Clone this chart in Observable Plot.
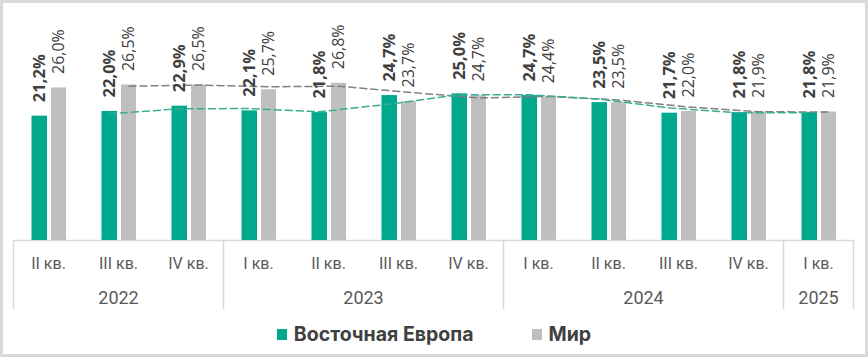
<!DOCTYPE html>
<html>
<head>
<meta charset="utf-8">
<script src="https://cdn.jsdelivr.net/npm/d3@7"></script>
<script src="https://cdn.jsdelivr.net/npm/@observablehq/plot@0.6"></script>
<style>
  html, body { margin: 0; padding: 0; background: #fff; }
  #wrap { position: relative; width: 868px; height: 357px; overflow: hidden; background: #fff; }
  #chart { position: absolute; left: 0; top: 0; }
  #frame { position: absolute; left: 0; top: 0; right: 0; bottom: 0; border: 3px solid #d9d9d9; box-sizing: border-box; pointer-events: none; }
  #legend { position: absolute; left: 0; top: 322px; width: 868px; height: 24px; display: flex; justify-content: center; align-items: center;
            font-family: Inter, sans-serif; font-weight: bold; font-size: 19.5px; color: #404040; }
  .item { display: flex; align-items: center; }
  .sw { width: 10px; height: 11px; margin-right: 7px; }
</style>
</head>
<body>
<div id="wrap">
  <div id="chart"></div>
  <div id="legend"></div>
  <div id="frame"></div>
</div>
<script>
// ---- data ----
const quarters = ["II кв.", "III кв.", "IV кв.", "I кв.", "II кв.", "III кв.", "IV кв.", "I кв.", "II кв.", "III кв.", "IV кв.", "I кв."];
const years    = ["2022", "2022", "2022", "2023", "2023", "2023", "2023", "2024", "2024", "2024", "2024", "2025"];
const eastEurope = [21.2, 22.0, 22.9, 22.1, 21.8, 24.7, 25.0, 24.7, 23.5, 21.7, 21.8, 21.8];
const world      = [26.0, 26.5, 26.5, 25.7, 26.8, 23.7, 24.7, 24.4, 23.5, 22.0, 21.9, 21.9];
// dashed trend lines
const eastEuropeTrend = [null, 21.6, 22.45, 22.5, 21.95, 23.25, 24.85, 24.85, 24.1, 22.6, 21.75, 21.8];
const worldTrend      = [null, 26.3, 26.5, 26.2, 26.3, 25.25, 24.3, 24.55, 23.95, 22.75, 21.95, 21.9];
const seriesNames = ["Восточная Европа", "Мир"];
const colors = ["#00a88e", "#bfbfbf"];

const keys = quarters.map((q, i) => years[i] + " " + q);
const rows = keys.map((k, i) => ({
  key: k, q: quarters[i], year: years[i],
  ee: eastEurope[i], world: world[i],
  eeT: eastEuropeTrend[i], wT: worldTrend[i]
}));
const fmt = v => v.toFixed(1).replace(".", ",") + "%";

const W = 868, H = 318, mL = 13, mR = 15;
const n = keys.length;
const step = (W - mL - mR) / n;

const groupStarts = keys.filter((k, i) => i === 0 || years[i] !== years[i - 1]);
const yearGroups = [...new Set(years)].map(y => {
  const idx = years.map((v, i) => v === y ? i : -1).filter(i => i >= 0);
  const mid = Math.floor((idx.length - 1) / 2);
  return { year: y, key: keys[idx[mid]], even: idx.length % 2 === 0 };
});

const labelFont = "'Open Sans', sans-serif";

const chart = Plot.plot({
  width: W, height: H,
  marginLeft: mL, marginRight: mR, marginTop: 64, marginBottom: 78,
  x: { type: "band", domain: keys, padding: 0, axis: null, label: null },
  y: { domain: [0, 30], axis: null, label: null },
  style: { fontFamily: "Roboto, sans-serif", background: "transparent", overflow: "visible" },
  marks: [
    Plot.ruleY([0], { stroke: "#d9d9d9", strokeWidth: 1.5 }),
    Plot.axisX(groupStarts, { tickSize: 69, tickFormat: () => "", label: null, dx: -step / 2, stroke: "#d9d9d9", strokeWidth: 1.5 }),
    Plot.axisX([keys[n - 1]], { tickSize: 69, tickFormat: () => "", label: null, dx: step / 2, stroke: "#d9d9d9", strokeWidth: 1.5 }),
    Plot.barY(rows, { x: "key", y: "ee", fill: colors[0], insetLeft: 18.5, insetRight: 36 }),
    Plot.barY(rows, { x: "key", y: "world", fill: colors[1], insetLeft: 38, insetRight: 17 }),
    Plot.lineY(rows.filter(d => d.wT != null), { x: "key", y: "wT", dx: 10.5, stroke: "#808080", strokeWidth: 1.5, strokeDasharray: "7,4" }),
    Plot.lineY(rows.filter(d => d.eeT != null), { x: "key", y: "eeT", dx: -9, stroke: "#3aae94", strokeWidth: 1.5, strokeDasharray: "7,4" }),
    Plot.text(rows, { x: "key", y: "ee", text: d => fmt(d.ee), rotate: -90, textAnchor: "start", lineAnchor: "middle",
                      dx: -9, dy: -14, fontWeight: "bold", fontSize: 16.5, fontFamily: labelFont, fill: "#404040" }),
    Plot.text(rows, { x: "key", y: "world", text: d => fmt(d.world), rotate: -90, textAnchor: "start", lineAnchor: "middle",
                      dx: 10.5, dy: -14, fontSize: 16, fontFamily: labelFont, fill: "#404040" }),
    Plot.text(rows, { x: "key", text: "q", frameAnchor: "bottom", dy: 23, lineAnchor: "middle", fontSize: 16, fill: "#595959" }),
    Plot.text(yearGroups.filter(d => !d.even), { x: "key", text: "year", frameAnchor: "bottom", dy: 58, lineAnchor: "middle", fontSize: 18, fill: "#595959" }),
    Plot.text(yearGroups.filter(d => d.even), { x: "key", text: "year", frameAnchor: "bottom", dy: 58, dx: step / 2, lineAnchor: "middle", fontSize: 18, fill: "#595959" })
  ]
});
document.getElementById("chart").appendChild(chart);

const legend = d3.select("#legend");
seriesNames.forEach((name, i) => {
  const it = legend.append("div").attr("class", "item").style("margin", i === 0 ? "0 58px 0 0" : "0");
  it.append("div").attr("class", "sw").style("background", colors[i]);
  it.append("span").text(name);
});
</script>
</body>
</html>
